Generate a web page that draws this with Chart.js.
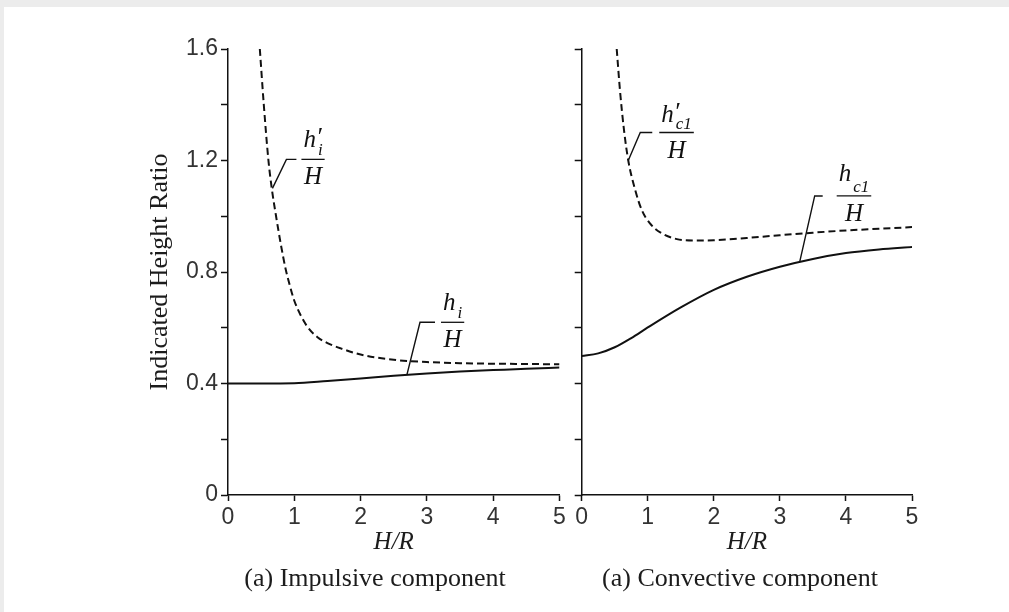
<!DOCTYPE html>
<html>
<head>
<meta charset="utf-8">
<script src="https://cdn.jsdelivr.net/npm/chart.js@4.4.1/dist/chart.umd.min.js"></script>
<style>
  html, body { margin: 0; padding: 0; }
  body { width: 1009px; height: 612px; background: #ececec; position: relative; overflow: hidden; }
  #sheet { position: absolute; left: 4px; top: 7px; right: 0; bottom: 0; background: #fff; }
  canvas { position: absolute; top: 0; }
  #impulsive { left: 0; }
  #convective { left: 570px; }
  .caption { position: absolute; top: 563px; width: 400px; text-align: center;
             font: 26px/30px "Liberation Serif", "Times New Roman", serif; color: #1c1c1c; }
</style>
</head>
<body>
<div id="sheet"></div>
<canvas id="impulsive" width="570" height="612"></canvas>
<canvas id="convective" width="439" height="612"></canvas>
<div class="caption" style="left:175px">(a) Impulsive component</div>
<div class="caption" style="left:540px">(a) Convective component</div>

<script>
// impulsive component: h_i/H (solid) and h'_i/H (dashed) against H/R
var impX      = [0, 0.5, 1, 1.5, 2, 2.5, 3, 3.5, 4, 4.5, 5];
var impHi     = [0.400, 0.400, 0.401, 0.409, 0.418, 0.428, 0.436, 0.443, 0.448, 0.453, 0.457];
var impPrimeX = [0.48, 0.54, 0.61, 0.66, 0.725, 0.80, 0.87, 0.94, 1.0, 1.1, 1.2, 1.35, 1.5, 1.7, 2.0, 2.5, 3, 3.5, 4, 4.5, 5];
var impPrimeY = [1.60, 1.40, 1.20, 1.10, 1.00, 0.895, 0.81, 0.745, 0.697, 0.643, 0.603, 0.566, 0.545, 0.526, 0.504, 0.485, 0.477, 0.473, 0.471, 0.470, 0.469];

// convective component: h_c1/H (solid) and h'_c1/H (dashed)
var conX      = [0, 0.25, 0.5, 0.75, 1, 1.5, 2, 2.5, 3, 3.5, 4, 4.5, 5];
var conHc     = [0.499, 0.508, 0.530, 0.563, 0.601, 0.673, 0.736, 0.783, 0.819, 0.847, 0.868, 0.881, 0.890];
var conPrimeX = [0.53, 0.58, 0.64, 0.705, 0.81, 0.91, 1.03, 1.21, 1.44, 1.7, 2.0, 2.5, 3, 3.5, 4, 4.5, 5];
var conPrimeY = [1.60, 1.45, 1.31, 1.20, 1.094, 1.022, 0.975, 0.939, 0.918, 0.913, 0.914, 0.922, 0.932, 0.941, 0.949, 0.955, 0.961];

// axes
var xRange = [0, 5];
var yRange = [0, 1.6];
var yLabelled = [0, 0.4, 0.8, 1.2, 1.6];

var INK = '#111';
var SERIF = '"Liberation Serif", "Times New Roman", serif';
var SANS = '"Liberation Sans", Arial, sans-serif';

function pairs(xs, ys) {
    return xs.map(function (x, i) { return {x: x, y: ys[i]}; });
}

// draws the h/H style fraction labels with their leader lines
var fracLabels = {
    id: 'fracLabels',
    afterDatasetsDraw: function (chart, args, opts) {
        var ctx = chart.ctx;
        var xs = chart.scales.x, ys = chart.scales.y;
        ctx.save();
        (opts.items || []).forEach(function (it) {
            var px = xs.getPixelForValue(it.at[0]);
            var py = ys.getPixelForValue(it.at[1]);
            var kx = px + it.rise[0], ky = py + it.rise[1];

            ctx.strokeStyle = INK;
            ctx.lineWidth = 1.4;
            ctx.beginPath();
            ctx.moveTo(px, py);
            ctx.lineTo(kx, ky);
            ctx.lineTo(kx + it.run, ky);
            ctx.stroke();

            ctx.font = 'italic 25px ' + SERIF;
            var hW = ctx.measureText('h').width;
            var HW = ctx.measureText('H').width;
            ctx.font = 'italic 17px ' + SERIF;
            var sW = ctx.measureText(it.sub).width;
            var numW = hW + 2 + sW;
            var barW = Math.max(numW, HW) + 4;
            var bx = kx + it.run + it.gap;
            var cx = bx + barW / 2;

            ctx.beginPath();
            ctx.lineWidth = 1.3;
            ctx.moveTo(bx, ky);
            ctx.lineTo(bx + barW, ky);
            ctx.stroke();

            ctx.fillStyle = INK;
            ctx.textBaseline = 'alphabetic';
            ctx.textAlign = 'left';
            var nx = cx - numW / 2;
            ctx.font = 'italic 25px ' + SERIF;
            ctx.fillText('h', nx, ky - it.lift);
            if (it.prime) {
                ctx.font = 'italic 26px ' + SERIF;
                ctx.fillText('\u2032', nx + hW, ky - it.lift - 2);
            }
            ctx.font = 'italic 17px ' + SERIF;
            ctx.fillText(it.sub, nx + hW + 2, ky - 4);

            ctx.font = 'italic 25px ' + SERIF;
            ctx.textAlign = 'center';
            ctx.fillText('H', cx, ky + 25);
        });
        ctx.restore();
    }
};

function panel(id, opt) {
    var ctx = document.getElementById(id).getContext('2d');
    return new Chart(ctx, {
        type: 'line',
        data: {
            datasets: [
                {
                    data: pairs(opt.solidX, opt.solidY),
                    borderColor: INK,
                    borderWidth: 2,
                    pointRadius: 0,
                    cubicInterpolationMode: 'monotone'
                },
                {
                    data: pairs(opt.dashX, opt.dashY),
                    borderColor: INK,
                    borderWidth: 2,
                    borderDash: [7, 4],
                    pointRadius: 0,
                    cubicInterpolationMode: 'monotone'
                }
            ]
        },
        options: {
            responsive: false,
            animation: false,
            layout: { padding: { left: 0, top: 49, right: opt.padRight, bottom: 0 } },
            plugins: {
                legend: { display: false },
                tooltip: { enabled: false },
                fracLabels: { items: opt.labels }
            },
            scales: {
                x: {
                    type: 'linear',
                    min: xRange[0],
                    max: xRange[1],
                    afterFit: function (s) { s.height = 117; },
                    border: { color: INK, width: 1.5 },
                    grid: { drawOnChartArea: false, drawTicks: true, tickLength: 6, tickColor: INK, tickWidth: 1.5 },
                    ticks: { stepSize: 1, color: '#333', padding: 3, maxRotation: 0,
                             font: { family: SANS, size: 23 } },
                    title: { display: true, text: 'H/R', color: '#1c1c1c',
                             font: { family: SERIF, size: 25, style: 'italic' },
                             padding: { top: 0, bottom: 55 } }
                },
                y: {
                    type: 'linear',
                    min: yRange[0],
                    max: yRange[1],
                    afterFit: function (s) { s.width = opt.yWidth; },
                    border: { color: INK, width: 1.5 },
                    grid: { drawOnChartArea: false, drawTicks: true, tickLength: 7, tickColor: INK, tickWidth: 1.5 },
                    ticks: {
                        stepSize: 0.2,
                        color: '#333',
                        padding: 3,
                        font: { family: SANS, size: 23 },
                        callback: function (v) {
                            if (!opt.yLabels) return '';
                            var hit = yLabelled.some(function (t) { return Math.abs(t - v) < 1e-6; });
                            if (!hit) return '';
                            return v === 0 ? '0' : v.toFixed(1);
                        }
                    },
                    title: {
                        display: opt.yLabels,
                        text: 'Indicated Height Ratio',
                        color: '#1c1c1c',
                        font: { family: SERIF, size: 26 },
                        padding: { top: 145, bottom: 0 }
                    }
                }
            }
        },
        plugins: [fracLabels]
    });
}

panel('impulsive', {
    solidX: impX, solidY: impHi,
    dashX: impPrimeX, dashY: impPrimeY,
    yWidth: 228, padRight: 10.5, yLabels: true,
    labels: [
        { at: [0.67, 1.10], rise: [14, -29], run: 10, gap: 5, sub: 'i', prime: true, lift: 12 },
        { at: [2.70, 0.433], rise: [13, -52], run: 15, gap: 6, sub: 'i', prime: false, lift: 12 }
    ]
});

panel('convective', {
    solidX: conX, solidY: conHc,
    dashX: conPrimeX, dashY: conPrimeY,
    yWidth: 11.7, padRight: 97, yLabels: false,
    labels: [
        { at: [0.705, 1.20], rise: [12, -28], run: 12, gap: 7, sub: 'c1', prime: true, lift: 11 },
        { at: [3.30, 0.836], rise: [15, -66], run: 8, gap: 14, sub: 'c1', prime: false, lift: 15 }
    ]
});
</script>
</body>
</html>
